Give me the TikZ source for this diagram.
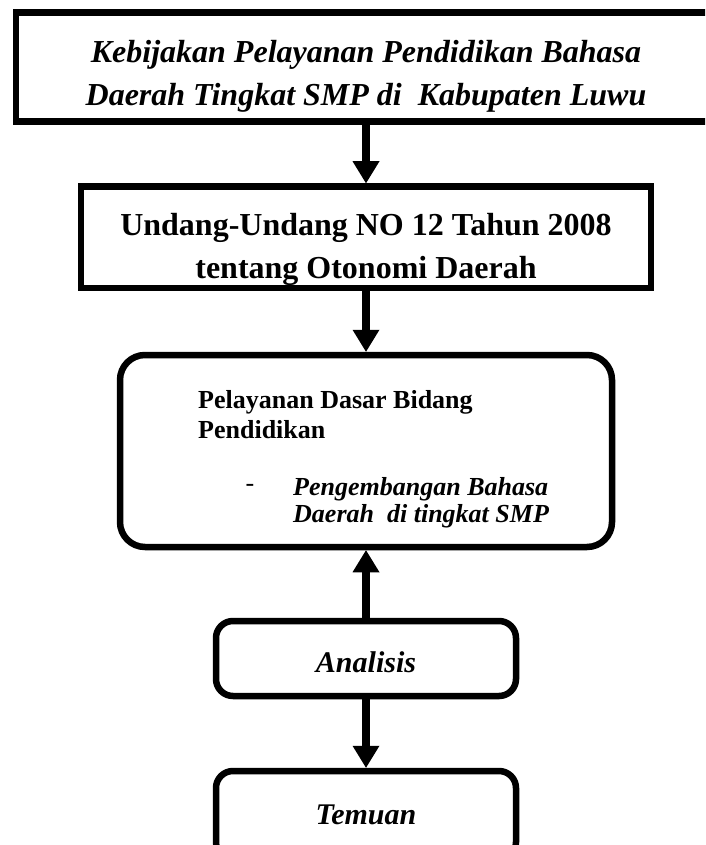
\documentclass[tikz,border=0pt]{standalone}
\usepackage{fontspec}
\setmainfont{Liberation Serif}
\usepackage{tikz}
\usetikzlibrary{shapes}
\usetikzlibrary{arrows.meta}
\tikzstyle{kotak} = [rectangle,draw=black,fill=white,line width=6.5pt,
inner sep=0pt]
\tikzstyle{kotakbulat} = [kotak,rounded corners=17pt]
\tikzstyle{judul} = [align=center,inner sep=0pt,
font=\fontsize{32}{43}\selectfont\bfseries]
\tikzstyle{isi} = [align=left,inner sep=0pt,anchor=north west,
font=\fontsize{26}{30}\selectfont\bfseries]
\tikzstyle{isimiring} = [isi,font=\fontsize{26}{27}\selectfont\bfseries\itshape]
\tikzstyle{kecil} = [font=\fontsize{30}{36}\selectfont\bfseries\itshape]
\newcommand{\sambung}[3][]{ %
  % Connect all nodes #2 to all nodes #3.
  \foreach \x in {#2} { %
    \foreach \y in {#3} { %
      \path (\x) edge [-{Triangle[length=22pt,width=27pt,line width=0pt]},
        line width=8pt, #1] (\y) ;%
    } ;
  } ;
}

\begin{document}
\begin{tikzpicture}[x=1pt,y=-1pt]
  \clip (0,0) rectangle (705,845);
  \node[kotak, minimum width=700pt, minimum height=109pt](kebijakan) at (366,67) {};
  \node[kotak, minimum width=570pt, minimum height=101.5pt](undang) at (366,237.25) {};
  \node[kotakbulat, rounded corners=25pt, minimum width=492pt,
    minimum height=192pt](pelayanan) at (366,451) {};
  \node[kotakbulat, kecil, minimum width=300pt, minimum height=75pt,
    text height=28pt, text depth=0pt](analisis) at (366,658.5) {Analisis};
  \node[kotakbulat, kecil, minimum width=300pt, minimum height=88pt](temuan)
    at (366,815) {Temuan};
  % texts of the upper boxes
  \node[judul, font=\fontsize{32}{43}\selectfont\bfseries\itshape](kebijakan-teks)
    at (366,76) {Kebijakan Pelayanan Pendidikan Bahasa\\
    Daerah Tingkat SMP di\ \ Kabupaten Luwu};
  \node[judul](undang-teks) at (366,249) {Undang-Undang NO 12 Tahun 2008\\
    tentang Otonomi Daerah};
  \node[isi](pelayanan-teks) at (198,390) {Pelayanan Dasar Bidang\\Pendidikan};
  \node[inner sep=0pt, font=\fontsize{26}{30}\selectfont](strip) at (250,488) {-};
  \node[isimiring](pengembangan-teks) at (293,477) {Pengembangan Bahasa\\
    Daerah\ \ di tingkat SMP};
  \sambung{kebijakan}{undang};
  \sambung{undang}{pelayanan};
  \sambung{analisis}{pelayanan};
  \sambung{analisis}{temuan};
\end{tikzpicture}
\end{document}
